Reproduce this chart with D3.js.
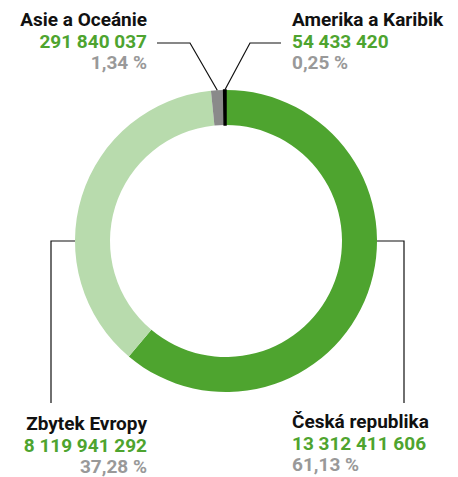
<!DOCTYPE html>
<html>
<head>
<meta charset="utf-8">
<script src="https://cdn.jsdelivr.net/npm/d3@7"></script>
<style>
  body { margin: 0; background: #fff; }
  svg { display: block; }
  text { font-family: Roboto, "Liberation Sans", sans-serif; font-weight: 700; font-size: 19px; }
</style>
</head>
<body>
<script>
// data, clockwise from 12 o'clock
const categories = ['Česká republika', 'Zbytek Evropy', 'Asie a Oceánie', 'Amerika a Karibik'];
const values = [13312411606, 8119941292, 291840037, 54433420];
const colors = ['#4ea42f', '#b8dbad', '#8a8a8a', '#000000'];

const width = 458, height = 477;
const cx = 226, cy = 241;
const outerR = 151, innerR = 116;

const svg = d3.select('body').append('svg')
    .attr('width', width)
    .attr('height', height);

const loc = d3.formatLocale({decimal: ',', thousands: ' ', grouping: [3], currency: ['', '']});
const fmtNum = loc.format(',d');
const fmtPct = loc.format('.2f');
const total = d3.sum(values);

const pie = d3.pie().sort(null).value(d => d);
const arcs = pie(values);
const arc = d3.arc().innerRadius(innerR).outerRadius(outerR);

const g = svg.append('g').attr('transform', 'translate(' + cx + ',' + cy + ')');
g.selectAll('path')
    .data(arcs)
    .enter().append('path')
    .attr('d', arc)
    .attr('fill', (d, i) => colors[i])
    // tiny slices get a hairline so they stay visible
    .attr('stroke', (d, i) => i === 3 ? colors[i] : 'none')
    .attr('stroke-width', 1.5);

// point on outer edge at an angle (radians, 0 = top, clockwise)
function edge(a) {
  return [cx + outerR * Math.sin(a), cy - outerR * Math.cos(a)];
}
const mid = d => (d.startAngle + d.endAngle) / 2;

// label layout: anchor angle, label block position and leader shape
const labels = [
  {i: 0, angle: Math.PI / 2, x: 292, y: 428, anchor: 'start', elbow: [404, cy], end: [404, 403]},
  {i: 1, angle: Math.PI * 1.5, x: 147, y: 430, anchor: 'end', elbow: [51, cy], end: [51, 403]},
  {i: 2, angle: mid(arcs[2]), x: 147, y: 26, anchor: 'end', elbow: [190, 43], end: [157, 43]},
  {i: 3, angle: mid(arcs[3]), x: 292, y: 26, anchor: 'start', elbow: [250, 43], end: [281, 43]}
];

labels.forEach(l => {
  const p = edge(l.angle);
  svg.append('path')
      .attr('d', d3.line()([p, l.elbow, l.end]))
      .attr('fill', 'none')
      .attr('stroke', '#111')
      .attr('stroke-width', 1.2);

  const t = svg.append('g').attr('text-anchor', l.anchor);
  t.append('text').attr('x', l.x).attr('y', l.y)
      .attr('fill', '#111').text(categories[l.i]);
  t.append('text').attr('x', l.x).attr('y', l.y + 21.5)
      .attr('fill', '#4ea42f').text(fmtNum(values[l.i]));
  t.append('text').attr('x', l.x).attr('y', l.y + 43)
      .attr('fill', '#999').text(fmtPct(values[l.i] / total * 100) + ' %');
});
</script>
</body>
</html>
